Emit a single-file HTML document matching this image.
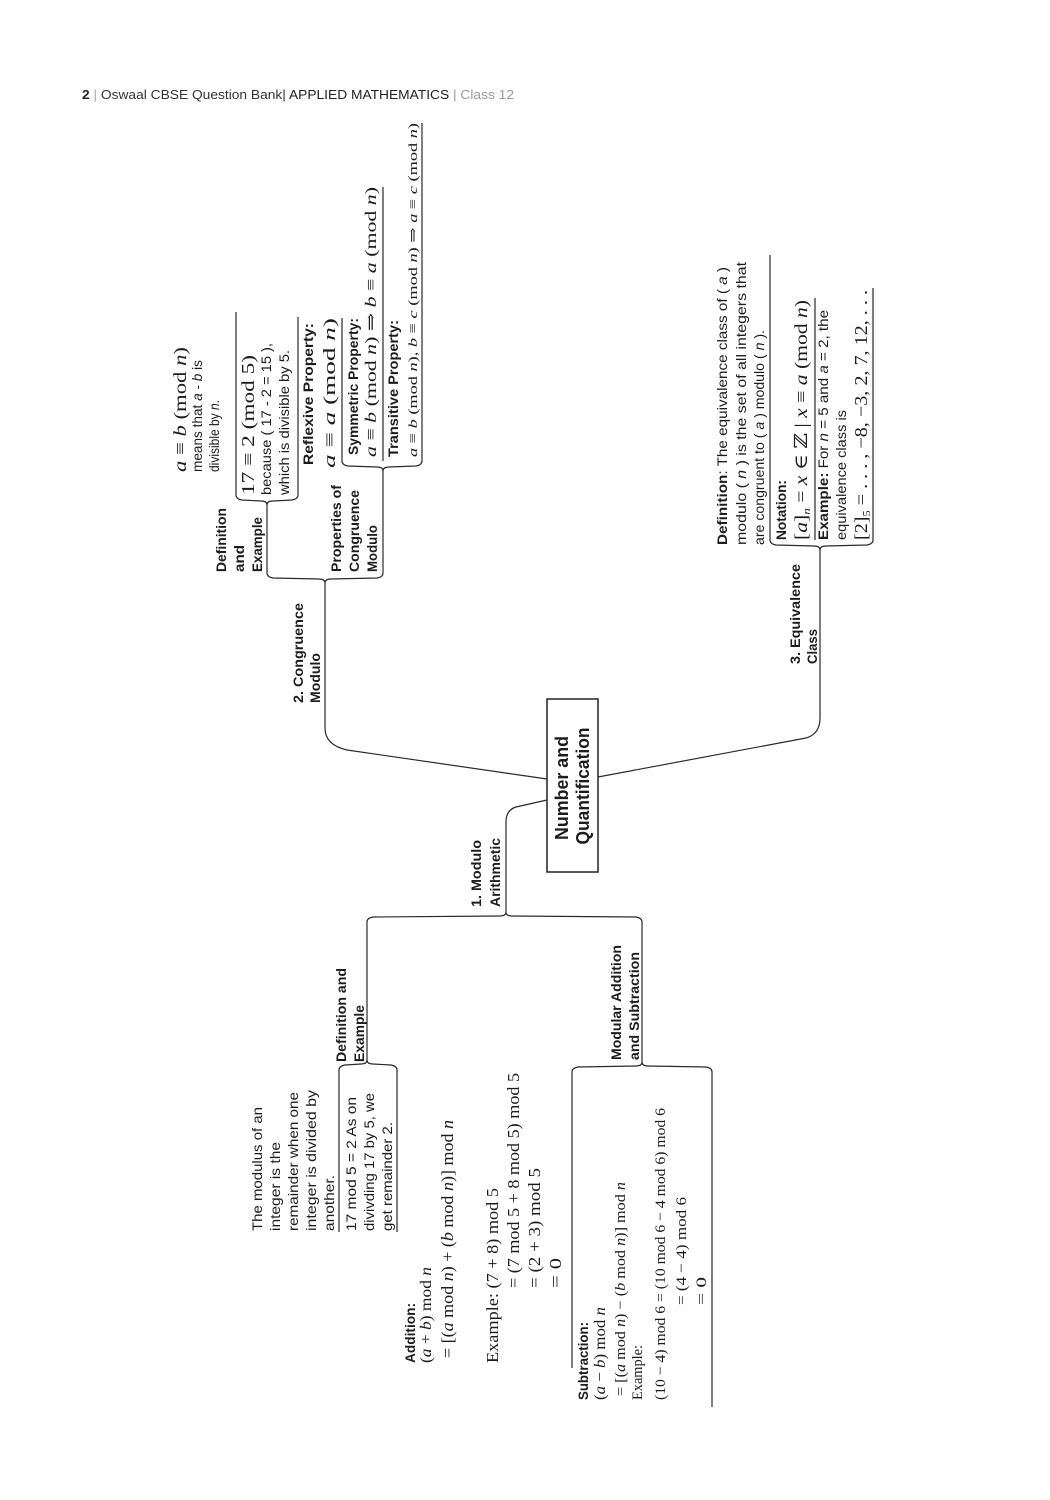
<!DOCTYPE html>
<html>
<head>
<meta charset="utf-8">
<style>
html,body{margin:0;padding:0;background:#fff;}
svg{display:block;}
.s{font-family:"Liberation Sans",Arial,sans-serif;font-size:14px;fill:#1c1c1c;}
.b{font-weight:bold;}
.m{font-family:"Liberation Serif","DejaVu Serif",serif;font-size:16px;fill:#1c1c1c;}
.i{font-style:italic;}
.ln{fill:none;stroke:#2a2a2a;stroke-width:1.2;}
</style>
</head>
<body>
<svg width="1050" height="1500" viewBox="0 0 1050 1500" xmlns="http://www.w3.org/2000/svg">
<rect x="0" y="0" width="1050" height="1500" fill="#fff"/>

<!-- Header -->
<text x="82" y="99" font-family="Liberation Sans, Arial, sans-serif" font-size="13" textLength="432" lengthAdjust="spacingAndGlyphs"><tspan font-weight="bold" fill="#222">2</tspan><tspan fill="#aaa"> | </tspan><tspan fill="#333">Oswaal CBSE Question Bank| </tspan><tspan fill="#222">APPLIED MATHEMATICS </tspan><tspan fill="#999">| Class 12</tspan></text>

<!-- Central box -->
<rect x="547" y="699" width="51" height="173" fill="#fff" stroke="#222" stroke-width="1.5"/>
<text class="s b" text-anchor="middle" transform="translate(568 788) rotate(-90)" textLength="104" lengthAdjust="spacingAndGlyphs" style="font-size:18px">Number and</text>
<text class="s b" text-anchor="middle" transform="translate(589 786) rotate(-90)" textLength="117" lengthAdjust="spacingAndGlyphs" style="font-size:18px">Quantification</text>

<!-- ===== Connectors ===== -->
<!-- Section 2 -->
<path class="ln" d="M325 583 L325 728 Q325 745 347 750 L547 779"/>
<path class="ln" d="M267 573 Q267 577 273 578 L319 579 Q325 579 325 583 Q325 579 331 579 L377 578 Q383 577 383 573"/>
<path class="ln" d="M267 573 L267 505"/>
<path class="ln" d="M236 495 Q236 499 242 500 L261 501 Q267 501 267 505 Q267 501 273 501 L292 500 Q298 499 298 495"/>
<path class="ln" d="M236 495 L236 312"/>
<path class="ln" d="M298 495 L298 317"/>
<path class="ln" d="M383 573 L383 471"/>
<path class="ln" d="M342 461 Q342 465 348 466 L377 467 Q383 467 383 471 Q383 467 389 467 L416 466 Q422 465 422 461"/>
<path class="ln" d="M342 461 L342 318"/>
<path class="ln" d="M383 461 L383 187"/>
<path class="ln" d="M422 461 L422 123"/>

<!-- Section 3 -->
<path class="ln" d="M598 777 L806 738 Q820 734 820 718 L820 550"/>
<path class="ln" d="M770 540 Q770 544 776 545 L814 546 Q820 546 820 550 Q820 546 826 546 L867 545 Q873 544 873 540"/>
<path class="ln" d="M770 540 L770 255"/>
<path class="ln" d="M815 540 L815 298"/>
<path class="ln" d="M873 540 L873 288"/>

<!-- Section 1 -->
<path class="ln" d="M547 800 L516 807 Q506 810 506 822 L506 912"/>
<path class="ln" d="M367 922 Q367 918 373 917 L500 916 Q506 916 506 912 Q506 916 512 916 L636 917 Q642 918 642 922"/>
<path class="ln" d="M367 922 L367 1060"/>
<path class="ln" d="M642 922 L642 1062"/>
<path class="ln" d="M339 1070 Q339 1066 345 1065 L361 1064 Q367 1064 367 1060 Q367 1064 373 1064 L391 1065 Q397 1066 397 1070"/>
<path class="ln" d="M339 1070 L339 1232"/>
<path class="ln" d="M397 1070 L397 1232"/>
<path class="ln" d="M572 1072 Q572 1068 578 1067 L636 1066 Q642 1066 642 1062 Q642 1066 648 1066 L706 1067 Q712 1068 712 1072"/>
<path class="ln" d="M572 1072 L572 1368"/>
<path class="ln" d="M712 1072 L712 1407"/>

<!-- ===== Section 2 text ===== -->
<text class="s b" transform="translate(303 703) rotate(-90)" textLength="100" lengthAdjust="spacingAndGlyphs">2. Congruence</text>
<text class="s b" transform="translate(320 703) rotate(-90)" textLength="50" lengthAdjust="spacingAndGlyphs">Modulo</text>

<text class="s b" transform="translate(226 572) rotate(-90)" textLength="64" lengthAdjust="spacingAndGlyphs">Definition</text>
<text class="s b" transform="translate(244 572) rotate(-90)" textLength="27" lengthAdjust="spacingAndGlyphs">and</text>
<text class="s b" transform="translate(262 572) rotate(-90)" textLength="55" lengthAdjust="spacingAndGlyphs">Example</text>

<text class="m" style="font-size:18px" transform="translate(186 472) rotate(-90)" textLength="125" lengthAdjust="spacingAndGlyphs"><tspan class="i">a</tspan> ≡ <tspan class="i">b</tspan>   (mod  <tspan class="i">n</tspan>)</text>
<text class="s" transform="translate(202 472) rotate(-90)" textLength="112" lengthAdjust="spacingAndGlyphs">means that <tspan class="i">a</tspan> - <tspan class="i">b</tspan> is</text>
<text class="s" transform="translate(219 472) rotate(-90)" textLength="72" lengthAdjust="spacingAndGlyphs">divisible by <tspan class="i">n</tspan>.</text>

<text class="m" style="font-size:18px" transform="translate(254 495) rotate(-90)" textLength="140" lengthAdjust="spacingAndGlyphs">17 ≡ 2   (mod  5)</text>
<text class="s" transform="translate(271 495) rotate(-90)" textLength="152" lengthAdjust="spacingAndGlyphs">because ( 17 - 2 = 15 ),</text>
<text class="s" transform="translate(289 495) rotate(-90)" textLength="145" lengthAdjust="spacingAndGlyphs">which is divisible by 5.</text>

<text class="s b" transform="translate(341 572) rotate(-90)" textLength="87" lengthAdjust="spacingAndGlyphs">Properties of</text>
<text class="s b" transform="translate(359 572) rotate(-90)" textLength="82" lengthAdjust="spacingAndGlyphs">Congruence</text>
<text class="s b" transform="translate(377 572) rotate(-90)" textLength="47" lengthAdjust="spacingAndGlyphs">Modulo</text>

<text class="s b" transform="translate(313 465) rotate(-90)" textLength="142" lengthAdjust="spacingAndGlyphs">Reflexive Property:</text>
<text class="m" style="font-size:17px" transform="translate(335 468) rotate(-90)" textLength="150" lengthAdjust="spacingAndGlyphs"><tspan class="i">a</tspan> ≡ <tspan class="i">a</tspan>   (mod  <tspan class="i">n</tspan>)</text>

<text class="s b" transform="translate(358 455) rotate(-90)" textLength="137" lengthAdjust="spacingAndGlyphs">Symmetric Property:</text>
<text class="m" style="font-size:16px" transform="translate(376 457) rotate(-90)" textLength="270" lengthAdjust="spacingAndGlyphs"><tspan class="i">a</tspan> ≡ <tspan class="i">b</tspan>   (mod  <tspan class="i">n</tspan>) ⇒ <tspan class="i">b</tspan> ≡ <tspan class="i">a</tspan>   (mod  <tspan class="i">n</tspan>)</text>

<text class="s b" transform="translate(398 457) rotate(-90)" textLength="137" lengthAdjust="spacingAndGlyphs">Transitive Property:</text>
<text class="m" style="font-size:13px" transform="translate(417 457) rotate(-90)" textLength="334" lengthAdjust="spacingAndGlyphs"><tspan class="i">a</tspan> ≡ <tspan class="i">b</tspan>   (mod  <tspan class="i">n</tspan>), <tspan class="i">b</tspan> ≡ <tspan class="i">c</tspan>   (mod  <tspan class="i">n</tspan>)  ⇒ <tspan class="i">a</tspan> ≡ <tspan class="i">c</tspan>   (mod  <tspan class="i">n</tspan>)</text>

<!-- ===== Section 3 text ===== -->
<text class="s b" transform="translate(800 664) rotate(-90)" textLength="100" lengthAdjust="spacingAndGlyphs">3. Equivalence</text>
<text class="s b" transform="translate(817 664) rotate(-90)" textLength="35" lengthAdjust="spacingAndGlyphs">Class</text>

<text class="s" transform="translate(727 545) rotate(-90)" textLength="278" lengthAdjust="spacingAndGlyphs"><tspan class="b">Definition</tspan>: The equivalence class of ( <tspan class="i">a</tspan> )</text>
<text class="s" transform="translate(746 545) rotate(-90)" textLength="283" lengthAdjust="spacingAndGlyphs">modulo ( <tspan class="i">n</tspan> ) is the set of all integers that</text>
<text class="s" transform="translate(764 545) rotate(-90)" textLength="215" lengthAdjust="spacingAndGlyphs">are congruent to ( <tspan class="i">a</tspan> ) modulo ( <tspan class="i">n</tspan> ).</text>

<text class="s b" transform="translate(786 540) rotate(-90)" textLength="60" lengthAdjust="spacingAndGlyphs">Notation:</text>
<text class="m" style="font-size:18px" transform="translate(807 540) rotate(-90)" textLength="240" lengthAdjust="spacingAndGlyphs">[<tspan class="i">a</tspan>]<tspan style="font-size:11px" class="i" dy="3">n</tspan><tspan dy="-3"> = </tspan><tspan class="i">x</tspan> ∈ ℤ | <tspan class="i">x</tspan> ≡ <tspan class="i">a</tspan>   (mod  <tspan class="i">n</tspan>)</text>

<text class="s" transform="translate(828 540) rotate(-90)" textLength="230" lengthAdjust="spacingAndGlyphs"><tspan class="b">Example:</tspan> For <tspan class="i">n</tspan> = 5  and <tspan class="i">a</tspan> = 2, the</text>
<text class="s" transform="translate(846 540) rotate(-90)" textLength="130" lengthAdjust="spacingAndGlyphs">equivalence class is</text>
<text class="m" style="font-size:18px" transform="translate(867 540) rotate(-90)" textLength="250" lengthAdjust="spacingAndGlyphs">[2]<tspan style="font-size:11px" dy="3">5</tspan><tspan dy="-3"> = . . . , −8, −3, 2, 7, 12, . . .</tspan></text>

<!-- ===== Section 1 text ===== -->
<text class="s b" transform="translate(481 907) rotate(-90)" textLength="67" lengthAdjust="spacingAndGlyphs">1. Modulo</text>
<text class="s b" transform="translate(500 907) rotate(-90)" textLength="69" lengthAdjust="spacingAndGlyphs">Arithmetic</text>

<text class="s b" transform="translate(346 1062) rotate(-90)" textLength="94" lengthAdjust="spacingAndGlyphs">Definition and</text>
<text class="s b" transform="translate(364 1062) rotate(-90)" textLength="57" lengthAdjust="spacingAndGlyphs">Example</text>
<text class="s b" transform="translate(621 1060) rotate(-90)" textLength="115" lengthAdjust="spacingAndGlyphs">Modular Addition</text>
<text class="s b" transform="translate(639 1060) rotate(-90)" textLength="108" lengthAdjust="spacingAndGlyphs">and Subtraction</text>

<text class="s" transform="translate(262 1231) rotate(-90)" textLength="124" lengthAdjust="spacingAndGlyphs">The modulus of an</text>
<text class="s" transform="translate(280 1231) rotate(-90)" textLength="89" lengthAdjust="spacingAndGlyphs">integer is the</text>
<text class="s" transform="translate(298 1231) rotate(-90)" textLength="139" lengthAdjust="spacingAndGlyphs">remainder when one</text>
<text class="s" transform="translate(316 1231) rotate(-90)" textLength="141" lengthAdjust="spacingAndGlyphs">integer is divided by</text>
<text class="s" transform="translate(334 1231) rotate(-90)" textLength="56" lengthAdjust="spacingAndGlyphs">another.</text>
<text class="s" transform="translate(356 1231) rotate(-90)" textLength="134" lengthAdjust="spacingAndGlyphs">17 mod 5 = 2  As on</text>
<text class="s" transform="translate(374 1231) rotate(-90)" textLength="138" lengthAdjust="spacingAndGlyphs">divivding 17 by 5, we</text>
<text class="s" transform="translate(392 1231) rotate(-90)" textLength="109" lengthAdjust="spacingAndGlyphs">get remainder 2.</text>

<!-- Addition -->
<text class="s b" transform="translate(415 1363) rotate(-90)" textLength="60" lengthAdjust="spacingAndGlyphs">Addition:</text>
<text class="m" transform="translate(431 1363) rotate(-90)" textLength="96" lengthAdjust="spacingAndGlyphs">(<tspan class="i">a</tspan> + <tspan class="i">b</tspan>) mod <tspan class="i">n</tspan></text>
<text class="m" style="font-size:17px" transform="translate(453 1358) rotate(-90)" textLength="238" lengthAdjust="spacingAndGlyphs">= [(<tspan class="i">a</tspan> mod <tspan class="i">n</tspan>) + (<tspan class="i">b</tspan> mod <tspan class="i">n</tspan>)] mod <tspan class="i">n</tspan></text>
<text class="m" style="font-size:17px" transform="translate(498 1363) rotate(-90)" textLength="175" lengthAdjust="spacingAndGlyphs">Example: (7 + 8) mod 5</text>
<text class="m" style="font-size:17px" transform="translate(519 1288) rotate(-90)" textLength="215" lengthAdjust="spacingAndGlyphs">= (7 mod 5 + 8 mod 5) mod 5</text>
<text class="m" style="font-size:17px" transform="translate(540 1288) rotate(-90)" textLength="120" lengthAdjust="spacingAndGlyphs">= (2 + 3) mod 5</text>
<text class="m" style="font-size:17px" transform="translate(561 1288) rotate(-90)" textLength="30" lengthAdjust="spacingAndGlyphs">= 0</text>

<!-- Subtraction -->
<text class="s b" transform="translate(588 1400) rotate(-90)" textLength="78" lengthAdjust="spacingAndGlyphs">Subtraction:</text>
<text class="m" transform="translate(605 1400) rotate(-90)" textLength="93" lengthAdjust="spacingAndGlyphs">(<tspan class="i">a</tspan> − <tspan class="i">b</tspan>) mod <tspan class="i">n</tspan></text>
<text class="m" style="font-size:15px" transform="translate(625 1396) rotate(-90)" textLength="214" lengthAdjust="spacingAndGlyphs">= [(<tspan class="i">a</tspan> mod <tspan class="i">n</tspan>) − (<tspan class="i">b</tspan> mod <tspan class="i">n</tspan>)] mod <tspan class="i">n</tspan></text>
<text class="m" style="font-size:15px" transform="translate(642 1400) rotate(-90)" textLength="55" lengthAdjust="spacingAndGlyphs">Example:</text>
<text class="m" style="font-size:15px" transform="translate(665 1400) rotate(-90)" textLength="292" lengthAdjust="spacingAndGlyphs">(10 − 4) mod 6 = (10 mod 6 − 4 mod 6) mod 6</text>
<text class="m" style="font-size:15px" transform="translate(686 1305) rotate(-90)" textLength="108" lengthAdjust="spacingAndGlyphs">= (4 − 4) mod 6</text>
<text class="m" style="font-size:15px" transform="translate(706 1305) rotate(-90)" textLength="28" lengthAdjust="spacingAndGlyphs">= 0</text>

</svg>
</body>
</html>
